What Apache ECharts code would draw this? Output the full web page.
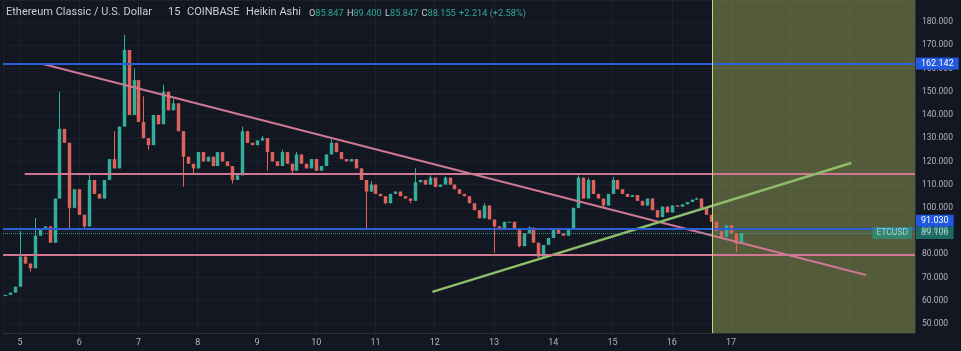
<!DOCTYPE html>
<html>
<head>
<meta charset="utf-8">
<script src="https://cdn.jsdelivr.net/npm/echarts@6/dist/echarts.min.js"></script>
<style>
  html, body { margin: 0; padding: 0; background: #131722; }
  #chart { width: 961px; height: 351px; }
</style>
</head>
<body>
<div id="chart"></div>
<script>
// ETC/USD Heikin Ashi, 2h steps (day of month on x)
const startDay = 4.75;
const stepDays = 1 / 12;
const closes = [
  62.5, 63.5, 66, 79, 76, 74, 88, 91, 92, 85,
  104, 134, 128, 100, 108, 97, 92, 112, 106, 104,
  112, 121, 117, 135, 168, 140, 155, 137, 130, 127,
  140, 136, 150, 142, 145, 133, 122, 119, 117, 124,
  120, 122, 118, 124, 120, 118, 112, 114, 133, 128,
  127, 129, 130, 124, 120, 118, 124, 119, 116, 123,
  119, 117, 121, 116, 118, 123, 128, 124, 121, 120,
  121, 117, 112, 107, 110, 106, 105, 102, 106, 107,
  105, 104, 103, 111, 112, 110, 113, 109, 110, 113,
  110, 108, 106, 105, 102, 99, 95.5, 101, 95, 92,
  91, 94, 94, 90.5, 83.5, 89, 91.5, 85, 79, 84,
  87, 91, 89, 88, 91, 100, 113, 104, 112, 106,
  104, 101, 106, 112, 108, 106, 104.7, 105.5, 103, 101,
  104, 99, 96, 100.5, 98, 101, 100.5, 101.5, 102.5, 103.5,
  104, 100, 97, 94, 90, 87.5, 92.5, 89, 84.5, 89.1
];
// wicks that stick out past the bodies: [candle index, price]
const wickHighs = [
  [3, 90], [6, 95.6], [11, 150], [17, 114.5], [22, 133], [24, 174.5], [25, 160],
  [26, 160], [27, 150], [28, 148], [32, 153], [34, 147], [48, 135], [52, 131],
  [56, 125], [59, 124], [66, 129.5], [74, 111.5], [83, 117], [86, 114], [89, 113.5],
  [97, 102], [106, 92], [116, 114], [118, 113], [123, 113.3], [140, 104.5]
];
const wickLows = [
  [3, 70], [5, 72.5], [13, 90.5], [16, 91], [29, 125], [36, 109], [38, 115],
  [46, 110.5], [53, 116], [58, 115], [73, 90.5], [77, 101.5], [82, 102], [99, 80.6],
  [104, 83], [108, 78.5], [121, 100.4], [132, 95.5], [148, 81]
];
const firstOpen = 62;

// drawings: [day, price]
const pinkTrend = [[5.387, 161.9], [19.28, 71.1]];
const greenTrend = [[11.96, 63.8], [19.03, 119.3]];
const pinkLevelTop = [[5.08, 114.6], [20.105, 114.6]];
const pinkLevelLow = 80.0;
const blueLevels = [162.142, 91.03];
const lastPrice = 89.106;
const zoneStart = 16.69;

const xMin = 4.714, xMax = 20.105;
const yMin = 46.1, yMax = 189.5;

const upColor = '#33ae9c';
const downColor = '#e0625a';
const pink = '#cf7892';
const blue = '#2b5fd6';
const green = '#8dbd68';
const gridColor = '#1c2130';
const textColor = '#b2b5be';
const font = 'Roboto, sans-serif';

const highMap = new Map(wickHighs);
const lowMap = new Map(wickLows);
const candleRows = closes.map((c, i) => {
  const o = i === 0 ? firstOpen : closes[i - 1];
  const hi = highMap.has(i) ? highMap.get(i) : Math.max(o, c);
  const lo = lowMap.has(i) ? lowMap.get(i) : Math.min(o, c);
  return [startDay + i * stepDays, o, c, lo, hi];
});

function renderCandle(params, api) {
  const t = api.value(0);
  const o = api.value(1), c = api.value(2), lo = api.value(3), hi = api.value(4);
  const pO = api.coord([t, o]);
  const pC = api.coord([t, c]);
  const pH = api.coord([t, hi]);
  const pL = api.coord([t, lo]);
  const w = Math.max(1, api.size([stepDays, 0])[0] * 0.7);
  const color = c >= o ? upColor : downColor;
  const top = Math.min(pO[1], pC[1]);
  const h = Math.max(1, Math.abs(pO[1] - pC[1]));
  const cx = Math.round(pO[0]) + 0.5;
  return {
    type: 'group',
    children: [
      { type: 'line', shape: { x1: cx, y1: pH[1], x2: cx, y2: pL[1] }, style: { stroke: color, lineWidth: 1 } },
      { type: 'rect', shape: { x: cx - w / 2, y: top, width: w, height: h }, style: { fill: color } }
    ]
  };
}

const chart = echarts.init(document.getElementById('chart'), null, { renderer: 'canvas' });

const badge = (bg, text) => ({
  show: true,
  position: 'end',
  distance: 1,
  formatter: text,
  color: '#ffffff',
  backgroundColor: bg,
  padding: [2, 5, 1, 5],
  fontSize: 9,
  fontFamily: font
});

const headerText = (left, text, rich) => ({
  type: 'text',
  left: left,
  top: 7,
  z: 100,
  style: { text: text, rich: rich }
});

const headRich = {
  t: { fill: '#c9ccd4', fontSize: 11, fontFamily: font },
  k: { fill: '#c9ccd4', fontSize: 9.2, fontFamily: font, padding: [2, 0, 0, 0] },
  v: { fill: '#2fa892', fontSize: 9.2, fontFamily: font, padding: [2, 0, 0, 0] }
};

const option = {
  backgroundColor: '#131722',
  animation: false,
  grid: { left: 0, right: 46, top: 0, bottom: 18 },
  xAxis: {
    type: 'value',
    min: xMin,
    max: xMax,
    minInterval: 1,
    maxInterval: 1,
    splitNumber: 15,
    axisLine: { show: true, lineStyle: { color: '#2a2e39' } },
    axisTick: { show: false },
    axisLabel: {
      color: textColor,
      fontSize: 9,
      fontFamily: font,
      margin: 5,
      formatter: (v) => (Math.abs(v - Math.round(v)) < 1e-6 && v <= 17 ? String(Math.round(v)) : '')
    },
    splitLine: { show: true, lineStyle: { color: gridColor, width: 1 } }
  },
  yAxis: {
    type: 'value',
    position: 'right',
    min: yMin,
    max: yMax,
    minInterval: 10,
    maxInterval: 10,
    splitNumber: 14,
    axisLine: { show: true, lineStyle: { color: '#2a2e39' } },
    axisTick: { show: false },
    axisLabel: {
      color: textColor,
      fontSize: 8.5,
      fontFamily: font,
      margin: 7,
      formatter: (v) => (Math.abs(v - Math.round(v)) < 1e-6 ? v.toFixed(3) : '')
    },
    splitLine: { show: true, lineStyle: { color: gridColor, width: 1 } }
  },
  graphic: [
    headerText(6, '{t|Ethereum Classic / U.S. Dollar}', headRich),
    headerText(168, '{t|15}', headRich),
    headerText(187, '{t|COINBASE}', headRich),
    headerText(246, '{t|Heikin Ashi}', headRich),
    headerText(309, '{k|O}{v|85.847} {k|H}{v|89.400} {k|L}{v|85.847} {k|C}{v|88.155} {v|+2.214 (+2.58%)}', headRich)
  ],
  series: [
    {
      name: 'ETCUSD',
      type: 'custom',
      renderItem: renderCandle,
      data: candleRows,
      encode: { x: 0, y: [1, 2, 3, 4] },
      clip: true,
      z: 2
    },
    {
      // blue levels
      type: 'line',
      data: [],
      z: 3,
      markLine: {
        silent: true,
        symbol: 'none',
        lineStyle: { color: blue, width: 2, type: 'solid' },
        label: { show: false },
        data: [
          { yAxis: blueLevels[0], label: badge('#2158e0', '162.142') },
          { yAxis: blueLevels[1] }
        ]
      }
    },
    {
      // 91.030 badge sits just above the last price badge on the price scale
      type: 'line',
      data: [],
      z: 3,
      markLine: {
        silent: true,
        symbol: 'none',
        lineStyle: { color: 'rgba(0,0,0,0)', width: 0 },
        data: [
          { yAxis: blueLevels[1] + 3.4, label: badge('#2158e0', '91.030') }
        ]
      }
    },
    {
      type: 'line',
      data: [],
      z: 3,
      markLine: {
        silent: true,
        symbol: 'none',
        lineStyle: { color: pink, width: 2, type: 'solid' },
        label: { show: false },
        data: [{ yAxis: pinkLevelLow }]
      }
    },
    {
      type: 'line',
      data: pinkLevelTop,
      symbol: 'none',
      silent: true,
      z: 3,
      lineStyle: { color: pink, width: 2 }
    },
    {
      type: 'line',
      data: pinkTrend,
      symbol: 'none',
      silent: true,
      z: 3,
      lineStyle: { color: pink, width: 2 }
    },
    {
      type: 'line',
      data: greenTrend,
      symbol: 'none',
      silent: true,
      z: 3,
      lineStyle: { color: green, width: 2.5 }
    },
    {
      // shaded date range
      type: 'line',
      data: [],
      z: 6,
      markArea: {
        silent: true,
        itemStyle: { color: 'rgba(172,186,92,0.42)' },
        data: [[{ xAxis: zoneStart }, { xAxis: xMax }]]
      },
      markLine: {
        silent: true,
        symbol: 'none',
        lineStyle: { color: '#d3d27c', width: 1, type: 'solid' },
        label: { show: false },
        data: [{ xAxis: zoneStart }]
      }
    },
    {
      // last price
      type: 'line',
      data: [],
      z: 8,
      markLine: {
        silent: true,
        symbol: 'none',
        lineStyle: { color: '#3aa99a', width: 1, type: 'dotted', opacity: 0.6 },
        data: [
          { yAxis: lastPrice, label: badge('#22a08d', '89.106') },
          {
            yAxis: lastPrice,
            label: {
              show: true,
              position: 'insideEnd',
              distance: 3,
              formatter: 'ETCUSD',
              color: '#ffffff',
              backgroundColor: '#22a08d',
              padding: [2, 4, 1, 4],
              fontSize: 8.5,
              fontFamily: font
            }
          }
        ]
      }
    }
  ]
};

chart.setOption(option);
window.addEventListener('resize', () => chart.resize());
</script>
</body>
</html>
